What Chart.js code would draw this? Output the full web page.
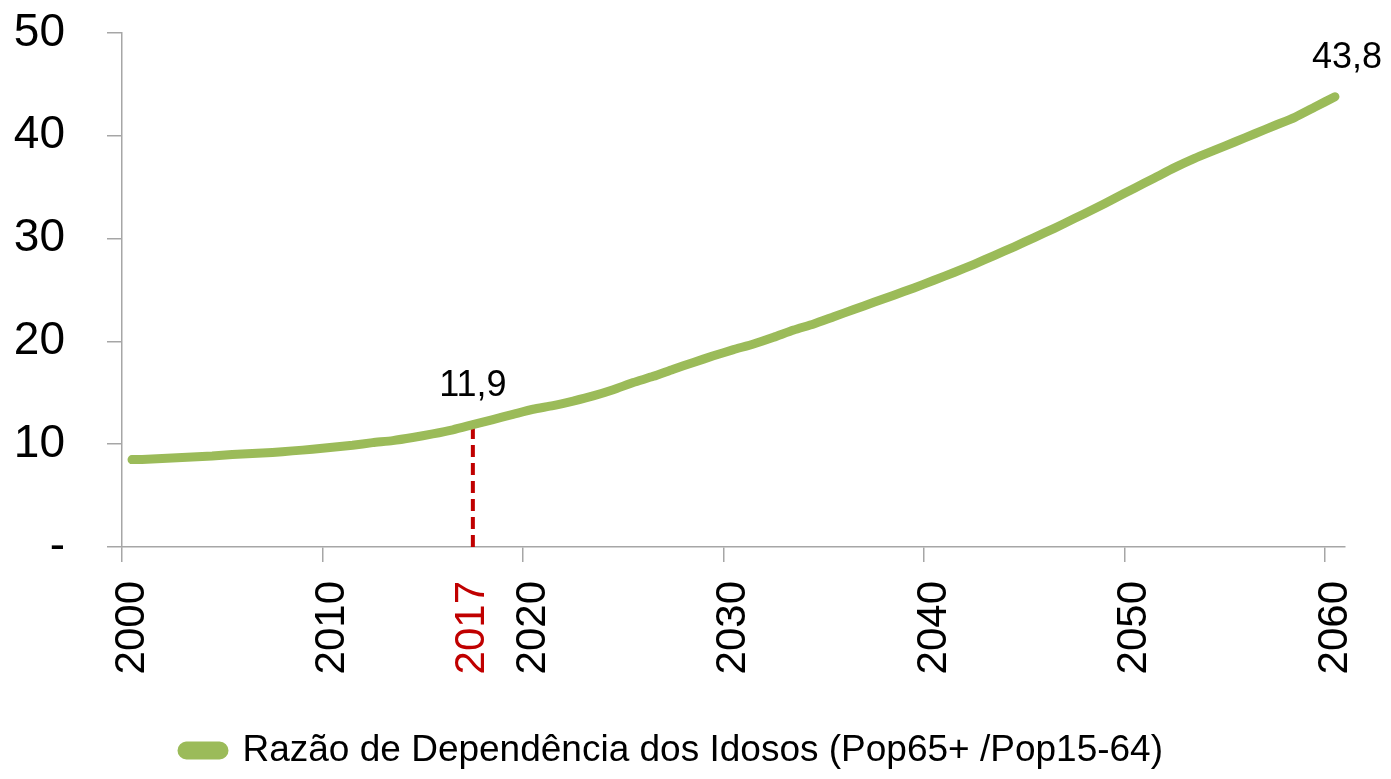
<!DOCTYPE html>
<html>
<head>
<meta charset="utf-8">
<script src="https://cdn.jsdelivr.net/npm/chart.js@4.4.1/dist/chart.umd.min.js"></script>
<style>
body{margin:0;background:#fff}
#wrap{width:1391px;height:779px}
</style>
</head>
<body>
<div id="wrap"><canvas id="chart" width="1391" height="779"></canvas></div>
<script>
// anos 2000-2060
const years=[]
for(let y=2000;y<=2060;y++) years.push(String(y))

// Razão de Dependência dos Idosos (Pop65+ /Pop15-64)
const ratio=[
8.5,8.55,8.65,8.75,8.85,9.0,9.1,9.2,9.35,9.5,
9.7,9.9,10.15,10.35,10.65,11.0,11.4,11.9,12.4,12.9,
13.4,13.75,14.2,14.7,15.3,16.0,16.6,17.3,17.95,18.6,
19.2,19.75,20.4,21.1,21.7,22.4,23.1,23.8,24.5,25.2,
25.95,26.7,27.5,28.35,29.2,30.1,31.0,31.95,32.9,33.9,
34.9,35.9,36.9,37.8,38.6,39.4,40.2,41.0,41.8,42.8,
43.8
]

const yTicks=[0,10,20,30,40,50]
const shownYears=["2000","2010","2017","2020","2030","2040","2050","2060"]
const markYear="2017"
const labelYears=["2017","2060"]

const green="#9bbb59"
const red="#c00000"
const axisGrey="#a6a6a6"
const font='"Liberation Sans",Arial,sans-serif'

function fmt(v){
return v.toFixed(1).replace(".",",")
}

// linha tracejada em 2017 + rótulos de valor
const markerPlugin={
id:"marker",
beforeDatasetsDraw(chart){
const meta=chart.getDatasetMeta(0)
const i=years.indexOf(markYear)
const pt=meta.data[i]
const y0=chart.scales.y.getPixelForValue(0)
const ctx=chart.ctx
ctx.save()
ctx.strokeStyle=red
ctx.lineWidth=4
ctx.setLineDash([12,6])
ctx.beginPath()
ctx.moveTo(pt.x,y0)
ctx.lineTo(pt.x,pt.y)
ctx.stroke()
ctx.restore()
},
afterDatasetsDraw(chart){
const meta=chart.getDatasetMeta(0)
const ctx=chart.ctx
ctx.save()
ctx.font="36px "+font
ctx.fillStyle="#000"
ctx.textAlign="center"
ctx.textBaseline="bottom"
labelYears.forEach((yr,k)=>{
const i=years.indexOf(yr)
const pt=meta.data[i]
const dx=k==labelYears.length-1?12:0
ctx.fillText(fmt(ratio[i]),pt.x+dx,pt.y-21)
})
ctx.restore()
}
}

new Chart(document.getElementById("chart"),{
type:"line",
data:{
labels:years,
datasets:[{
label:"Razão de Dependência dos Idosos (Pop65+ /Pop15-64)",
data:ratio,
borderColor:green,
backgroundColor:green,
borderWidth:9,
borderCapStyle:"round",
borderJoinStyle:"round",
pointRadius:0,
tension:0.2
}]
},
options:{
responsive:false,
animation:false,
devicePixelRatio:1,
layout:{padding:{left:0,right:46,top:33,bottom:0}},
plugins:{
tooltip:{enabled:false},
legend:{
position:"bottom",
labels:{
font:{family:font,size:37},
color:"#000",
boxWidth:42,
boxHeight:9,
useBorderRadius:true,
borderRadius:4.5,
padding:10
}
}
},
scales:{
x:{
type:"category",
offset:true,
afterFit(s){
s.height=175
s.paddingLeft=0
s.paddingRight=0
},
border:{color:axisGrey,width:1.5},
grid:{
offset:true,
drawOnChartArea:false,
drawTicks:true,
tickLength:15,
lineWidth:1.5,
color:ctx=>{
if(!ctx.tick) return "transparent"
const yr=years[ctx.index]
return Number(yr)%10===0?axisGrey:"transparent"
}
},
ticks:{
autoSkip:false,
minRotation:90,
maxRotation:90,
padding:19,
font:{family:font,size:42},
color:ctx=>years[ctx.index]===markYear?red:"#000",
callback:(v,i)=>shownYears.includes(years[i])?years[i]:""
}
},
y:{
min:0,
max:50,
afterFit(s){
s.width=122
s.paddingTop=0
s.paddingBottom=0
},
afterBuildTicks(s){s.ticks=yTicks.map(v=>({value:v}))},
border:{color:axisGrey,width:1.5},
grid:{
drawOnChartArea:false,
drawTicks:true,
tickLength:15,
lineWidth:1.5,
color:axisGrey
},
ticks:{
padding:42,
font:{family:font,size:46},
color:"#000",
callback:v=>v===0?"-":String(v)
}
}
}
},
plugins:[markerPlugin]
})
</script>
</body>
</html>
